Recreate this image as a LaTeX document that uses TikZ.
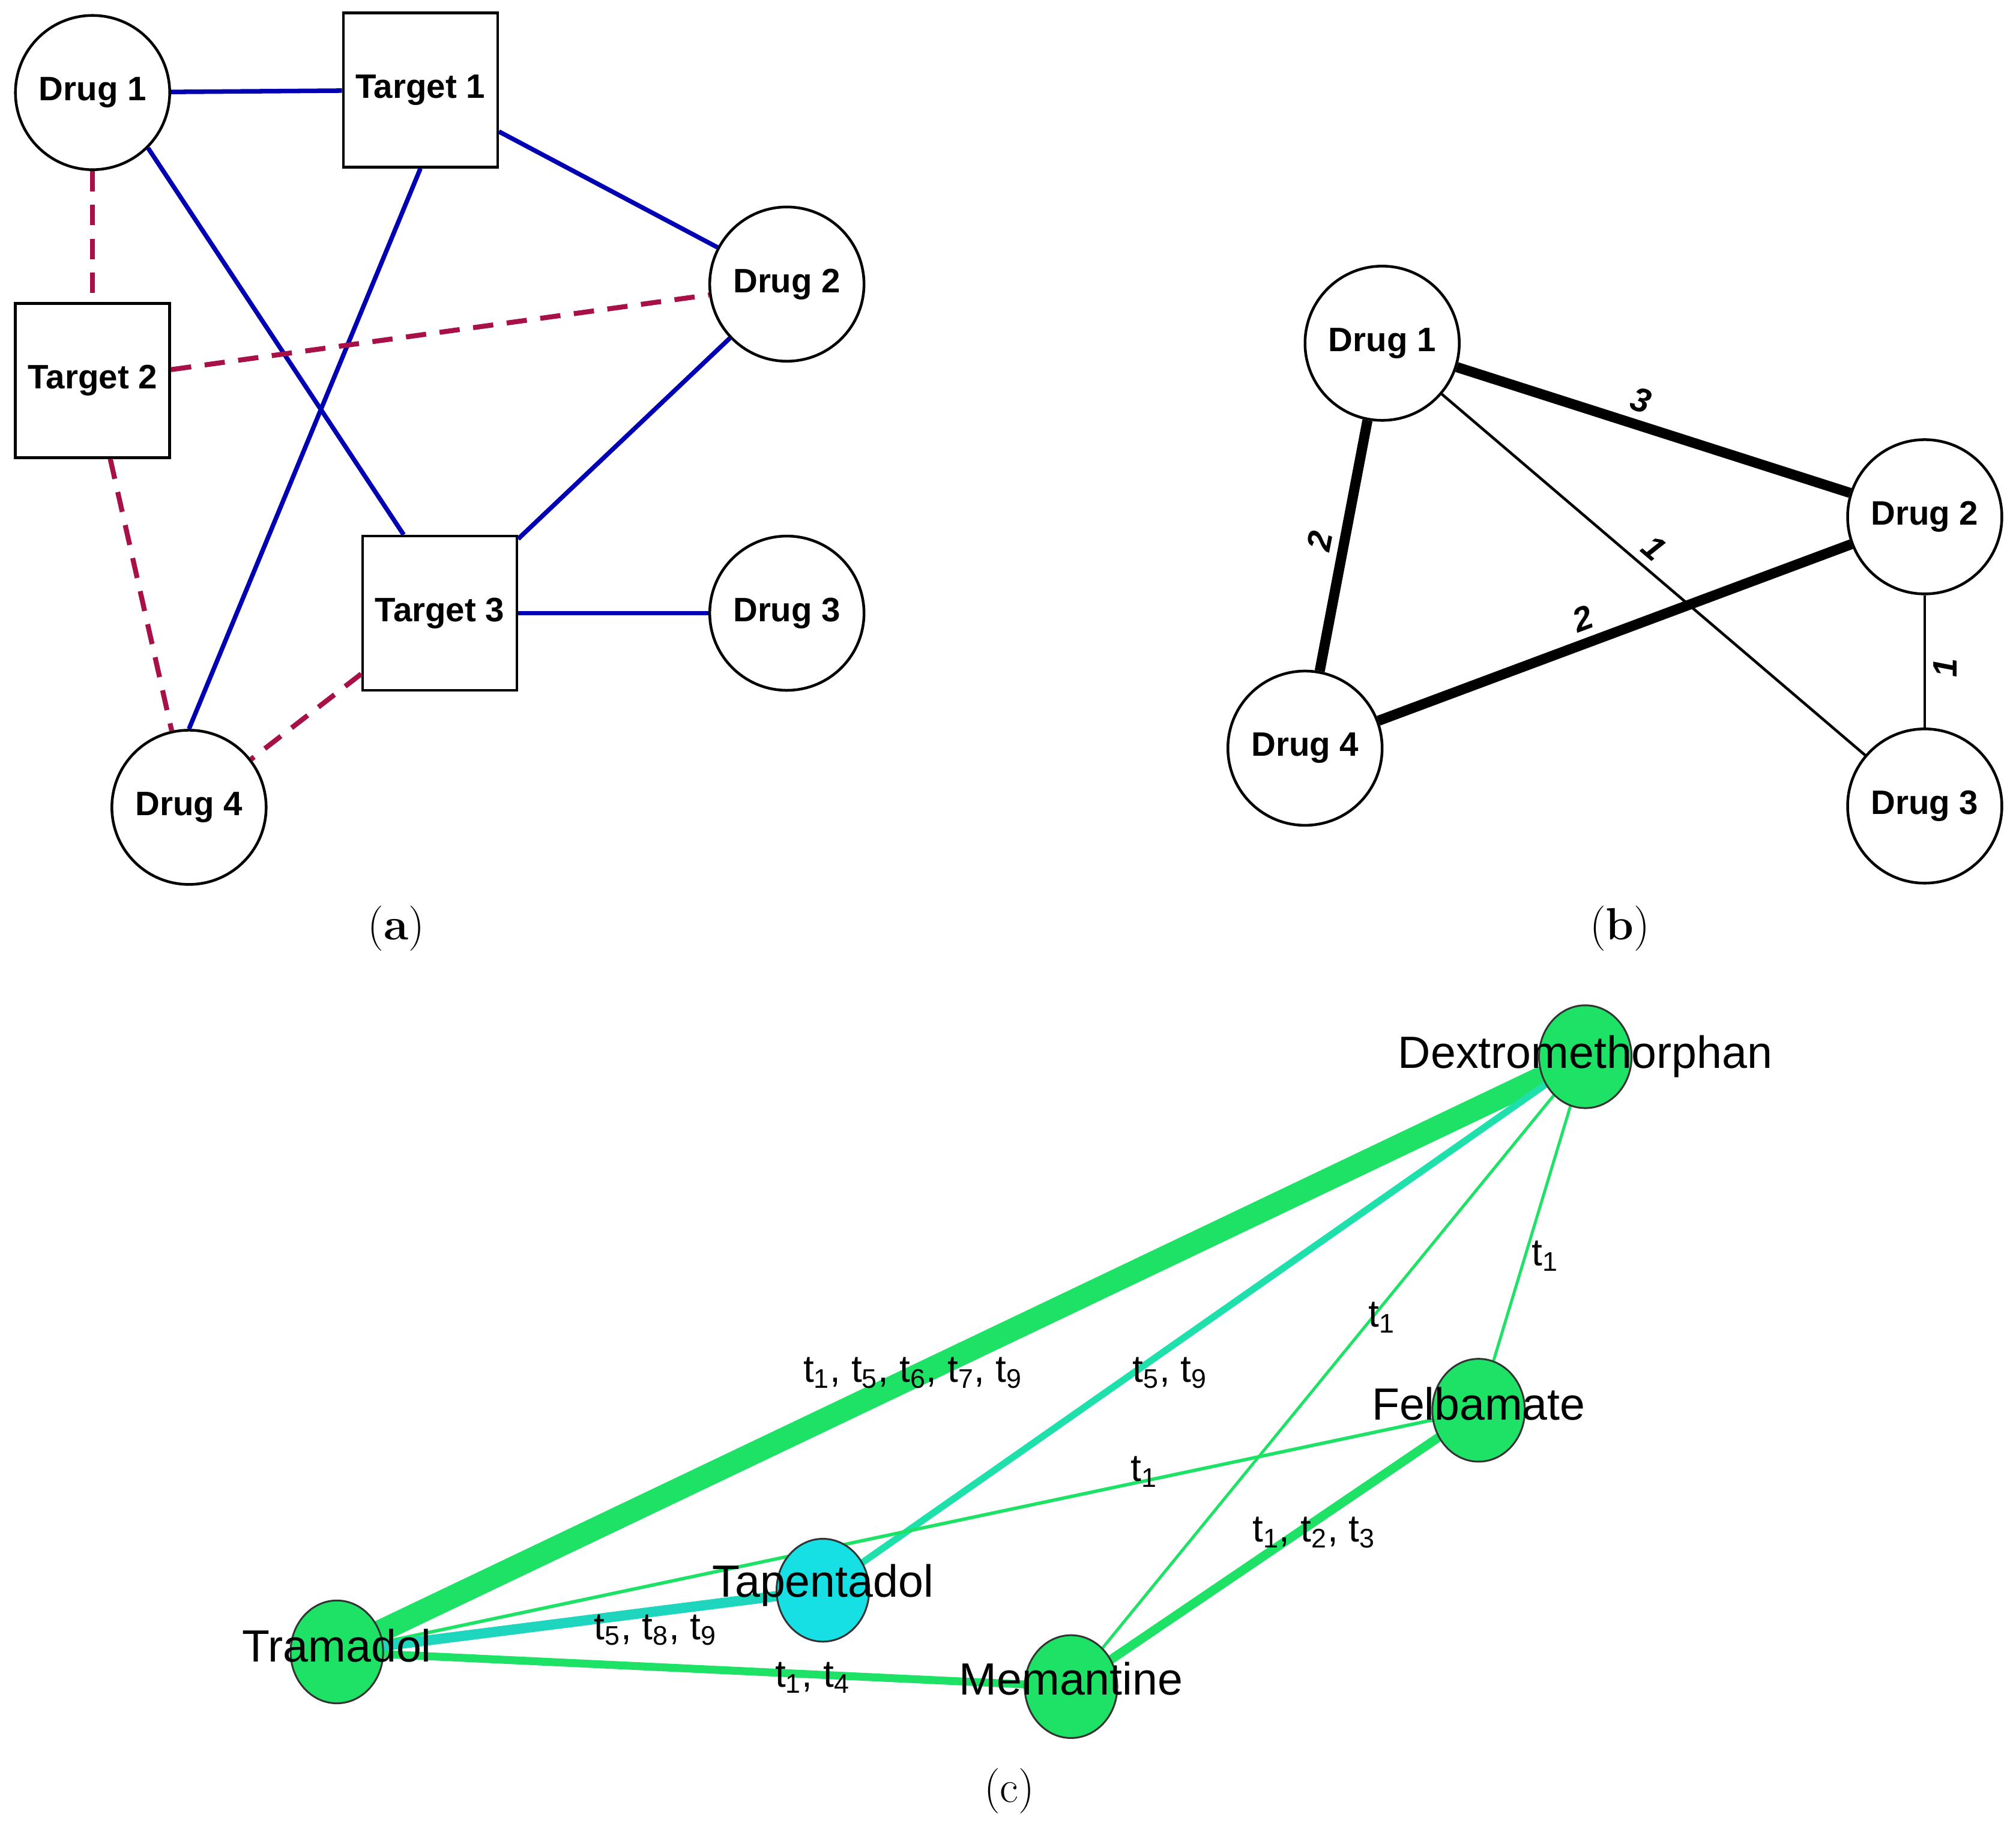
\documentclass[tikz,border=0pt]{standalone}
\usepackage{fontspec}
\usetikzlibrary{shapes.geometric}
\newfontfamily\sff{Liberation Sans}
\begin{document}
\begin{tikzpicture}[x=0.02cm,y=-0.02cm,
 cnode/.style={circle,draw,line width=1.2pt,minimum size=2.4cm,inner sep=0pt,font=\sff\bfseries\fontsize{15}{18}\selectfont,fill=white},
 snode/.style={rectangle,draw,line width=1.2pt,minimum size=2.4cm,inner sep=0pt,font=\sff\bfseries\fontsize{15}{18}\selectfont,fill=white},
 bl/.style={draw=blue!70!black,line width=2pt},
 rd/.style={draw={rgb,255:red,168;green,16;blue,72},line width=2.2pt,dash pattern=on 9pt off 6pt},
 wl/.style={font=\sff\bfseries\itshape\fontsize{15}{18}\selectfont,sloped},
 gnode/.style={ellipse,draw=black!80,line width=0.8pt,minimum width=1.44cm,minimum height=1.6cm,inner sep=0pt},
 gl/.style={font=\sff\fontsize{20}{24}\selectfont,inner sep=0pt},
 el/.style={font=\sff\fontsize{17}{20}\selectfont,inner sep=0pt},
 capt/.style={font=\fontsize{20}{24}\selectfont}]
\useasboundingbox (0,0) rectangle (1568,1420);
\definecolor{gA}{RGB}{30,226,102}
\definecolor{gB}{RGB}{30,224,170}
\definecolor{gC}{RGB}{30,214,190}
\definecolor{cy}{RGB}{22,224,228}
% (a)
\node[cnode] (d1) at (72,72) {Drug 1};
\node[snode] (t1) at (327,70) {Target 1};
\node[cnode] (d2) at (612,221) {Drug 2};
\node[snode] (t2) at (72,296) {Target 2};
\node[snode] (t3) at (342,477) {Target 3};
\node[cnode] (d3) at (612,477) {Drug 3};
\node[cnode] (d4) at (147,628) {Drug 4};
\draw[bl] (d1) -- (t1);
\draw[bl] (t1) -- (d2);
\draw[bl] (d1.south east) -- ([xshift=0.66cm]t3.north west);
\draw[bl] (t1.south) -- (d4.north);
\draw[bl] (d2) -- (t3);
\draw[bl] (t3) -- (d3);
\draw[rd] (d1) -- (t2);
\draw[rd] (t2) -- (d2);
\draw[rd] (t2) -- (d4);
\draw[rd] (t3) -- (d4);
\node[capt] (ca) at (308,722) {(\textbf{a})};
% (b)
\node[cnode] (b1) at (1075,267) {Drug 1};
\node[cnode] (b2) at (1497,402) {Drug 2};
\node[cnode] (b3) at (1497,627) {Drug 3};
\node[cnode] (b4) at (1015,582) {Drug 4};
\draw[line width=4.5pt] (b1) -- node[wl,above,pos=0.45]{3} (b2);
\draw[line width=4.5pt] (b1) -- node[wl,above]{2} (b4);
\draw[line width=1.2pt] (b1) -- node[wl,above,pos=0.47]{1} (b3);
\draw[line width=4.5pt] (b4) -- node[wl,above,pos=0.45]{2} (b2);
\draw[line width=1.2pt] (b3) -- node[wl,below,pos=0.45]{1} (b2);
\node[capt] (cb) at (1260,722) {(\textbf{b})};
% (c)
\coordinate (Dx) at (1233,822);
\coordinate (Fx) at (1150,1097);
\coordinate (Tx) at (640,1237);
\coordinate (Rx) at (262,1285);
\coordinate (Mx) at (833,1312);
\draw[gA,line width=10pt] (Rx) -- (Dx);
\draw[gB,line width=3pt] (Tx) -- (Dx);
\draw[gA,line width=1.3pt] (Mx) -- (Dx);
\draw[gA,line width=1.3pt] (Fx) -- (Dx);
\draw[gA,line width=1.5pt] (Rx) -- (Fx);
\draw[gC,line width=4.5pt] (Rx) -- (Tx);
\draw[gA,line width=3.5pt] (Rx) -- (Mx);
\draw[gA,line width=4pt] (Mx) -- (Fx);
\node[gnode,fill=gA] (D) at (Dx) {};
\node[gnode,fill=gA] (F) at (Fx) {};
\node[gnode,fill=cy] (T) at (Tx) {};
\node[gnode,fill=gA] (R) at (Rx) {};
\node[gnode,fill=gA] (M) at (Mx) {};
\node[gl] at (1233,822) {Dextromethorphan};
\node[gl] at (1150,1092) {Felbamate};
\node[gl] at (640,1233) {Tapentadol};
\node[gl] at (262,1280) {Tramadol};
\node[gl] at (833,1306) {Memantine};
\node[el] (l1) at (710,1068) {t\textsubscript{1}, t\textsubscript{5}, t\textsubscript{6}, t\textsubscript{7}, t\textsubscript{9}};
\node[el] (l2) at (910,1068) {t\textsubscript{5}, t\textsubscript{9}};
\node[el] (l3) at (1075,1025) {t\textsubscript{1}};
\node[el] (l4) at (1202,977) {t\textsubscript{1}};
\node[el] (l5) at (890,1145) {t\textsubscript{1}};
\node[el] (l6) at (1022,1192) {t\textsubscript{1}, t\textsubscript{2}, t\textsubscript{3}};
\node[el] (l7) at (510,1268) {t\textsubscript{5}, t\textsubscript{8}, t\textsubscript{9}};
\node[el] (l8) at (632,1305) {t\textsubscript{1}, t\textsubscript{4}};
\node[capt] (cc) at (785,1393) {(c)};
\end{tikzpicture}
\end{document}
